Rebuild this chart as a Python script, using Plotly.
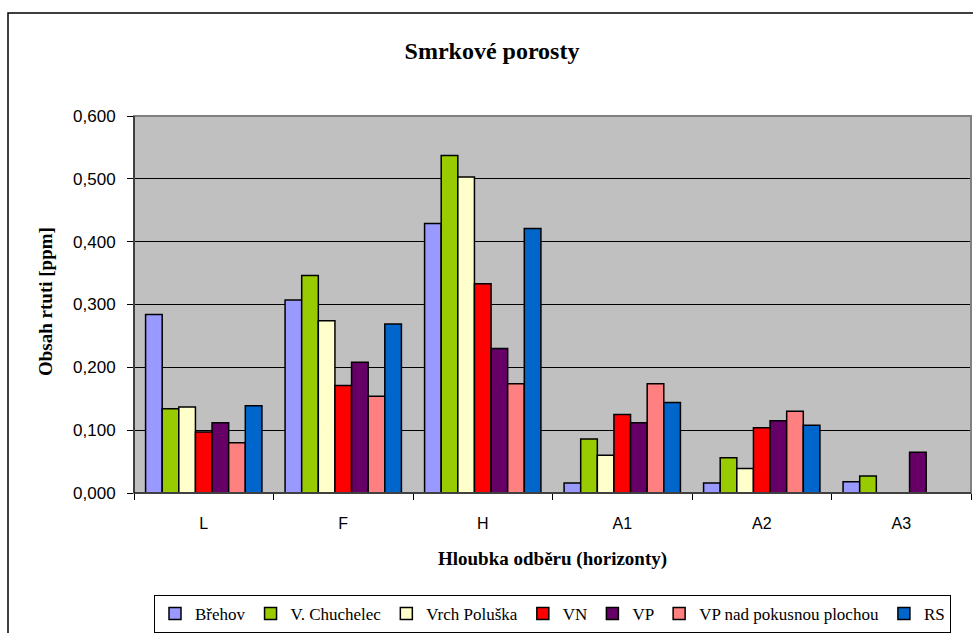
import plotly.graph_objects as go

# Horizons (sampling depth) on the x axis
categories = ["L", "F", "H", "A1", "A2", "A3"]

# Mercury content [ppm] per locality
brehov = [0.284, 0.307, 0.429, 0.016, 0.016, 0.018]
chuchelec = [0.134, 0.346, 0.537, 0.086, 0.056, 0.027]
polus = [0.137, 0.274, 0.503, 0.060, 0.039, None]
vn = [0.097, 0.171, 0.333, 0.125, 0.104, None]
vp = [0.112, 0.208, 0.230, 0.112, 0.115, 0.065]
vp_nad = [0.080, 0.154, 0.174, 0.174, 0.130, None]
rs = [0.139, 0.269, 0.421, 0.144, 0.108, None]

series_names = ["Břehov", "V. Chuchelec", "Vrch Poluška", "VN", "VP",
                "VP nad pokusnou plochou", "RS"]
series_values = [brehov, chuchelec, polus, vn, vp, vp_nad, rs]
series_colors = ["#9999FF", "#99CC00", "#FFFFCC", "#FF0000", "#660066",
                 "#FF8080", "#0066CC"]

W, H = 973, 633
L, R, T, B = 134, 2, 116, 140
pw, ph = W - L - R, H - T - B


def px_x(px):
    return (px - L) / pw


def px_y(py):
    return (H - B - py) / ph


fig = go.Figure()
for name, vals, col in zip(series_names, series_values, series_colors):
    fig.add_trace(go.Bar(
        x=categories, y=vals, name=name,
        marker=dict(color=col, line=dict(color="black", width=1.5)),
    ))

serif = "Liberation Serif, Times New Roman, serif"
sans = "Liberation Sans, Arial, sans-serif"

fig.update_layout(
    width=W, height=H,
    margin=dict(l=L, r=R, t=T, b=B, autoexpand=False),
    paper_bgcolor="white",
    plot_bgcolor="#C0C0C0",
    separators=", ",
    barmode="group",
    bargap=0.166,
    bargroupgap=0,
    title=dict(
        text="<b>Smrkové porosty</b>",
        font=dict(family=serif, size=24, color="black"),
        x=492 / W, xref="container", xanchor="center",
        y=1 - 51 / H, yref="container", yanchor="middle",
    ),
    xaxis=dict(
        type="category",
        tickson="boundaries",
        ticks="outside", ticklen=6, tickcolor="black",
        showline=True, linecolor="black", linewidth=1,
        showgrid=False,
        tickfont=dict(family=sans, size=16, color="black"),
        ticklabelstandoff=16,
    ),
    yaxis=dict(
        range=[0, 0.6], dtick=0.1, tickformat=".3f",
        ticks="outside", ticklen=6, tickcolor="black",
        showline=True, linecolor="black", linewidth=1,
        showgrid=True, gridcolor="black", gridwidth=1,
        zeroline=False,
        tickfont=dict(family=sans, size=17, color="black"),
        ticklabelstandoff=8,
    ),
    legend=dict(
        orientation="h",
        x=0.5, xanchor="center",
        y=px_y(595), yanchor="top",
        font=dict(family=serif, size=17, color="black"),
        bordercolor="black", borderwidth=1,
        bgcolor="white",
        itemwidth=30,
        tracegroupgap=0,
    ),
    showlegend=True,
)

# axis titles
fig.add_annotation(
    text="<b>Hloubka odběru (horizonty)</b>",
    xref="paper", yref="paper", x=0.5, y=px_y(559),
    xanchor="center", yanchor="middle", showarrow=False,
    font=dict(family=serif, size=19, color="black"),
)
fig.add_annotation(
    text="<b>Obsah rtuti [ppm]</b>",
    xref="paper", yref="paper", x=px_x(45), y=px_y(302),
    xanchor="center", yanchor="middle", showarrow=False, textangle=-90,
    font=dict(family=serif, size=19, color="black"),
)

# plot area frame (grey on top and right)
fig.add_shape(type="rect", xref="paper", yref="paper",
              x0=0, x1=1, y0=0, y1=1,
              line=dict(color="#808080", width=2), layer="above")
fig.add_shape(type="line", xref="paper", yref="paper",
              x0=0, x1=0, y0=0, y1=1,
              line=dict(color="black", width=1), layer="above")
fig.add_shape(type="line", xref="paper", yref="paper",
              x0=0, x1=1, y0=0, y1=0,
              line=dict(color="black", width=1), layer="above")

# outer chart border
fig.add_shape(type="rect", xref="paper", yref="paper",
              x0=px_x(8), x1=px_x(W + 20), y0=px_y(H + 20), y1=px_y(13),
              line=dict(color="black", width=1.5), layer="below")

fig.write_html("out.html")
